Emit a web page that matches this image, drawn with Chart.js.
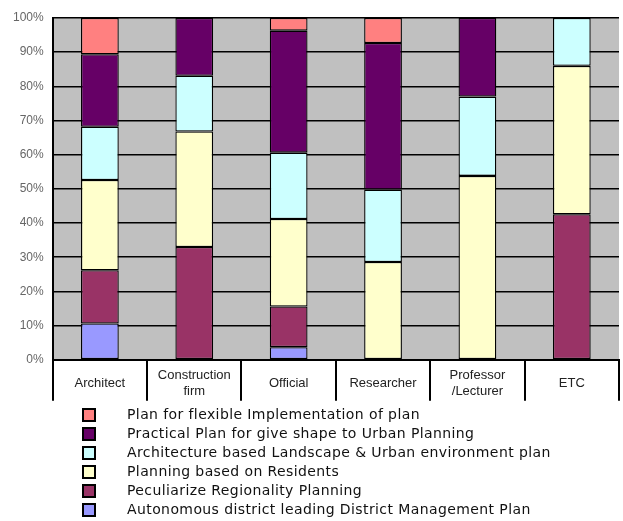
<!DOCTYPE html>
<html>
<head>
<meta charset="utf-8">
<script src="https://cdn.jsdelivr.net/npm/chart.js@4/dist/chart.umd.min.js"></script>
<style>
  html, body { margin: 0; padding: 0; background: #ffffff; }
  #wrap { position: relative; width: 623px; height: 521px; }
  #chart { position: absolute; left: 0; top: 0; }
  #legend { position: absolute; left: 82px; top: 405px; margin: 0; padding: 0; list-style: none;
            font-family: "DejaVu Sans", sans-serif; font-size: 14px; letter-spacing: 0.4px; color: #111; }
  #legend li { position: relative; height: 19px; line-height: 19px; padding-left: 45px; white-space: nowrap; }
  #legend li span.box { position: absolute; left: 0; top: 3px; width: 10px; height: 10px;
                        border: 2px solid #000; }
</style>
</head>
<body>
<div id="wrap">
  <canvas id="chart" width="623" height="521"></canvas>
  <ul id="legend"></ul>
</div>
<script>
// Respondent groups
const categories = ['Architect', ['Construction', 'firm'], 'Official', 'Researcher', ['Professor', '/Lecturer'], 'ETC'];

// Share of answers per group (%), stacked bottom to top
const autonomousDistrict = [10.6, 0, 3.7, 0, 0, 0];
const peculiarizeRegionality = [15.6, 33.0, 11.9, 0, 0, 42.6];
const residentsBased = [26.4, 33.8, 25.6, 28.6, 53.8, 43.4];
const architectureLandscape = [15.6, 16.3, 19.4, 21.2, 23.2, 14.0];
const practicalPlan = [21.2, 16.9, 35.7, 42.9, 23.0, 0];
const flexibleImplementation = [10.6, 0, 3.7, 7.3, 0, 0];

const yTicks = [0, 10, 20, 30, 40, 50, 60, 70, 80, 90, 100];

const seriesNames = [
  'Autonomous district leading District Management Plan',
  'Peculiarize Regionality Planning',
  'Planning based on Residents',
  'Architecture based Landscape & Urban environment plan',
  'Practical Plan for give shape to Urban Planning',
  'Plan for flexible Implementation of plan'
];
const seriesData = [autonomousDistrict, peculiarizeRegionality, residentsBased,
                    architectureLandscape, practicalPlan, flexibleImplementation];
const seriesColors = ['#9999FF', '#993366', '#FFFFCC', '#CCFFFF', '#660066', '#FF8080'];

// Gray plotting area behind the bars
const plotBackground = {
  id: 'plotBackground',
  beforeDraw(chart) {
    const { ctx, chartArea: a } = chart;
    ctx.save();
    ctx.fillStyle = '#C0C0C0';
    ctx.fillRect(a.left, a.top, a.right - a.left, a.bottom - a.top);
    ctx.restore();
  }
};

// Vertical separators framing each category label cell
const categoryCells = {
  id: 'categoryCells',
  afterDraw(chart) {
    const { ctx, chartArea: a } = chart;
    const xs = chart.scales.x;
    const n = xs.ticks.length;
    const half = (xs.getPixelForValue(1) - xs.getPixelForValue(0)) / 2;
    ctx.save();
    ctx.strokeStyle = '#000000';
    ctx.lineWidth = 2;
    ctx.beginPath();
    for (let i = 0; i <= n; i++) {
      const x = Math.round(xs.getPixelForValue(i) - half);
      ctx.moveTo(x, a.bottom);
      ctx.lineTo(x, a.bottom + 41);
    }
    ctx.stroke();
    ctx.restore();
  }
};

new Chart(document.getElementById('chart'), {
  type: 'bar',
  data: {
    labels: categories,
    datasets: seriesNames.map((name, i) => ({
      label: name,
      data: seriesData[i],
      backgroundColor: seriesColors[i],
      borderColor: '#000000',
      borderWidth: 1.3,
      borderSkipped: false,
      barPercentage: 0.4,
      categoryPercentage: 1
    }))
  },
  options: {
    responsive: false,
    animation: false,
    devicePixelRatio: 1,
    layout: { padding: { top: 18, left: 4, right: 4, bottom: 98 } },
    plugins: { legend: { display: false }, tooltip: { enabled: false } },
    scales: {
      x: {
        stacked: true,
        offset: true,
        grid: { offset: true, drawOnChartArea: false, drawTicks: false },
        border: { display: true, color: '#000000', width: 2 },
        ticks: { padding: 16, crossAlign: 'center', maxRotation: 0, autoSkip: false,
                 color: '#222222', font: { family: 'Liberation Sans', size: 13 } }
      },
      y: {
        stacked: true,
        min: 0,
        max: 100,
        afterBuildTicks(scale) { scale.ticks = yTicks.map(v => ({ value: v })); },
        grid: { color: '#000000', lineWidth: 1.6, drawTicks: false },
        border: { display: true, color: '#000000', width: 2 },
        ticks: { padding: 9, color: '#666666', font: { family: 'Liberation Sans', size: 12 },
                 callback: v => v + '%' }
      }
    }
  },
  plugins: [plotBackground, categoryCells]
});

// Legend list, top entry first
const legend = document.getElementById('legend');
for (let i = seriesNames.length - 1; i >= 0; i--) {
  const li = document.createElement('li');
  const box = document.createElement('span');
  box.className = 'box';
  box.style.background = seriesColors[i];
  li.appendChild(box);
  li.appendChild(document.createTextNode(seriesNames[i]));
  legend.appendChild(li);
}
</script>
</body>
</html>
